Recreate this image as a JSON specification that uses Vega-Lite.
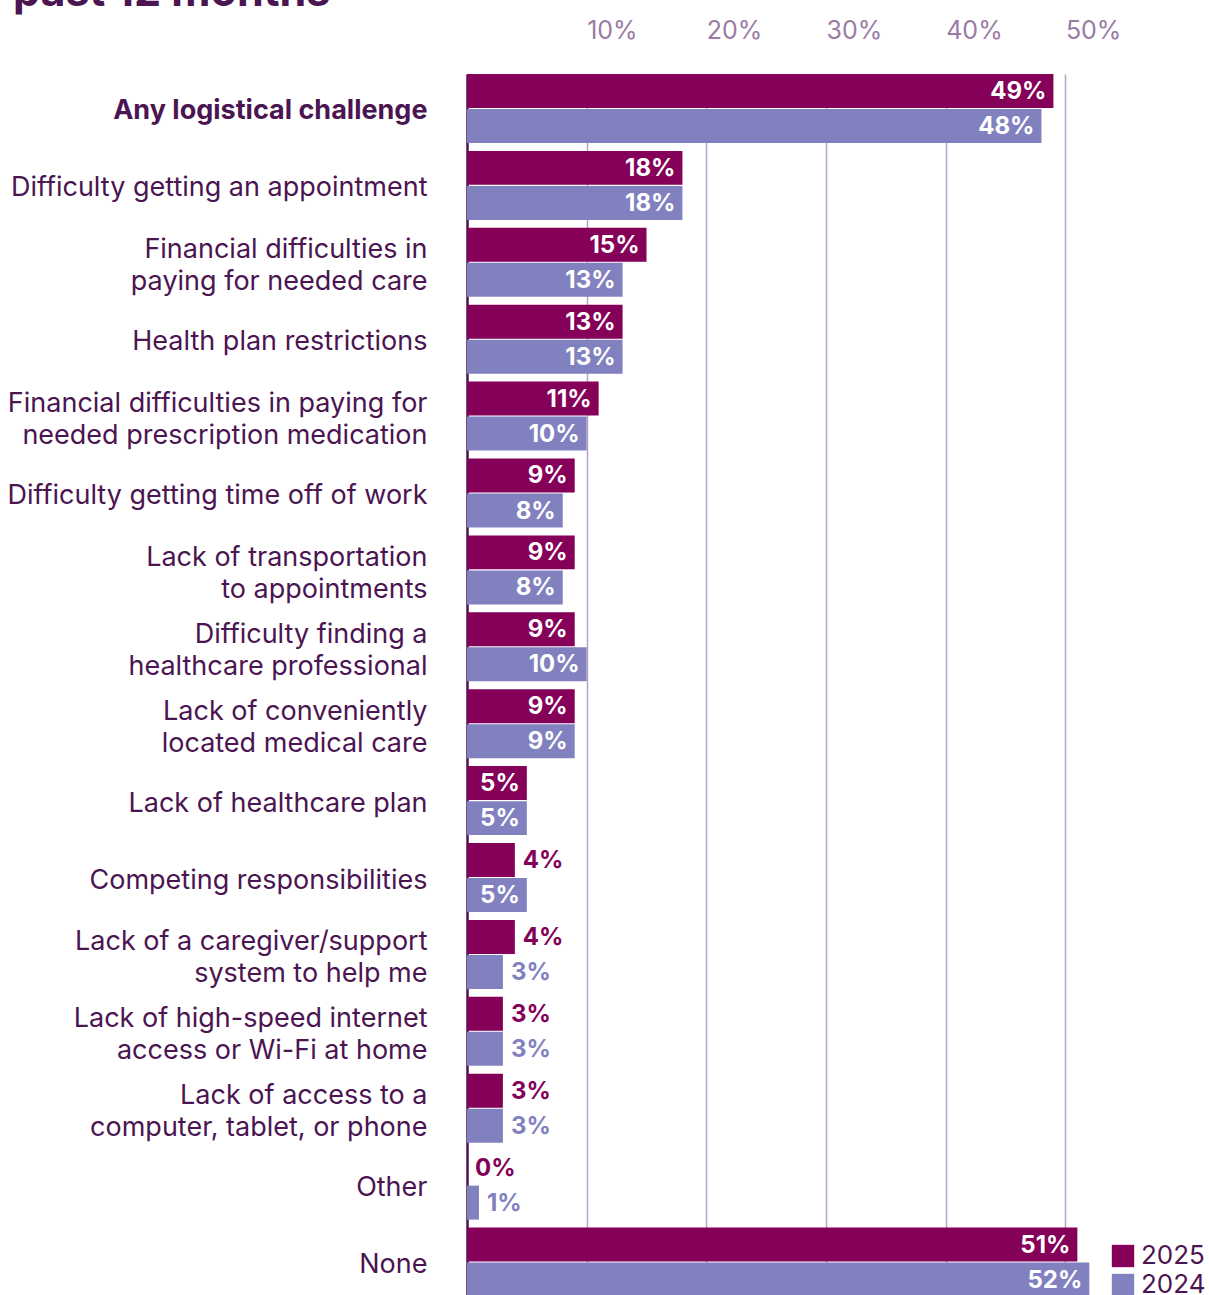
{
  "$schema": "https://vega.github.io/schema/vega-lite/v6.json",
  "autosize": {"type": "none"},
  "padding": {"left": 467, "top": 12, "right": 0, "bottom": 0},
  "width": 742,
  "height": 1283,
  "background": "white",
  "view": {"stroke": null},
  "title": {
    "text": "past 12 months",
    "anchor": "start",
    "frame": "group",
    "orient": "top",
    "offset": 5,
    "dx": -454,
    "dy": 42,
    "baseline": "alphabetic",
    "font": "Inter",
    "fontSize": 43,
    "fontWeight": "bold",
    "color": "#4b1551"
  },
  "data": {
    "values": [
      {"challenge": "Any logistical challenge", "year": "2025", "pct": 49},
      {"challenge": "Any logistical challenge", "year": "2024", "pct": 48},
      {"challenge": "Difficulty getting an appointment", "year": "2025", "pct": 18},
      {"challenge": "Difficulty getting an appointment", "year": "2024", "pct": 18},
      {"challenge": "Financial difficulties in|paying for needed care", "year": "2025", "pct": 15},
      {"challenge": "Financial difficulties in|paying for needed care", "year": "2024", "pct": 13},
      {"challenge": "Health plan restrictions", "year": "2025", "pct": 13},
      {"challenge": "Health plan restrictions", "year": "2024", "pct": 13},
      {"challenge": "Financial difficulties in paying for|needed prescription medication", "year": "2025", "pct": 11},
      {"challenge": "Financial difficulties in paying for|needed prescription medication", "year": "2024", "pct": 10},
      {"challenge": "Difficulty getting time off of work", "year": "2025", "pct": 9},
      {"challenge": "Difficulty getting time off of work", "year": "2024", "pct": 8},
      {"challenge": "Lack of transportation|to appointments", "year": "2025", "pct": 9},
      {"challenge": "Lack of transportation|to appointments", "year": "2024", "pct": 8},
      {"challenge": "Difficulty finding a|healthcare professional", "year": "2025", "pct": 9},
      {"challenge": "Difficulty finding a|healthcare professional", "year": "2024", "pct": 10},
      {"challenge": "Lack of conveniently|located medical care", "year": "2025", "pct": 9},
      {"challenge": "Lack of conveniently|located medical care", "year": "2024", "pct": 9},
      {"challenge": "Lack of healthcare plan", "year": "2025", "pct": 5},
      {"challenge": "Lack of healthcare plan", "year": "2024", "pct": 5},
      {"challenge": "Competing responsibilities", "year": "2025", "pct": 4},
      {"challenge": "Competing responsibilities", "year": "2024", "pct": 5},
      {"challenge": "Lack of a caregiver/support|system to help me", "year": "2025", "pct": 4},
      {"challenge": "Lack of a caregiver/support|system to help me", "year": "2024", "pct": 3},
      {"challenge": "Lack of high-speed internet|access or Wi-Fi at home", "year": "2025", "pct": 3},
      {"challenge": "Lack of high-speed internet|access or Wi-Fi at home", "year": "2024", "pct": 3},
      {"challenge": "Lack of access to a|computer, tablet, or phone", "year": "2025", "pct": 3},
      {"challenge": "Lack of access to a|computer, tablet, or phone", "year": "2024", "pct": 3},
      {"challenge": "Other", "year": "2025", "pct": 0},
      {"challenge": "Other", "year": "2024", "pct": 1},
      {"challenge": "None", "year": "2025", "pct": 51},
      {"challenge": "None", "year": "2024", "pct": 52}
    ]
  },
  "transform": [{"calculate": "datum.pct + '%'", "as": "pct_label"}],
  "encoding": {
    "y": {
      "field": "challenge",
      "type": "nominal",
      "sort": null,
      "scale": {"range": [62, 1284.5], "paddingInner": 0.103, "paddingOuter": 0},
      "axis": {
        "title": null,
        "orient": "left",
        "domain": true,
        "domainColor": "#4b1551",
        "domainWidth": 2.5,
        "ticks": false,
        "labelPadding": 40,
        "labelExpr": "split(datum.value, '|')",
        "labelLineHeight": 32,
        "labelOffset": {"condition": {"test": "indexof(datum.value, '|') >= 0", "value": -12}, "value": 3},
        "labelFont": "Inter",
        "labelFontSize": 27,
        "labelFontWeight": {"condition": {"test": "datum.value == 'Any logistical challenge'", "value": "bold"}, "value": "normal"},
        "labelColor": "#4b1551",
        "labelLimit": 0
      }
    },
    "yOffset": {
      "field": "year",
      "type": "nominal",
      "sort": ["2025", "2024"],
      "scale": {"paddingInner": 0.03, "paddingOuter": 0}
    },
    "x": {
      "field": "pct",
      "type": "quantitative",
      "scale": {"domain": [0, 62], "nice": false, "zero": true},
      "axis": {
        "title": null,
        "orient": "top",
        "values": [10, 20, 30, 40, 50],
        "domain": false,
        "ticks": false,
        "tickSize": 0,
        "grid": true,
        "gridColor": "#b8a3c6",
        "gridWidth": 1.5,
        "labelExpr": "datum.value + '%'",
        "labelAlign": "left",
        "labelBaseline": "alphabetic",
        "labelPadding": -26,
        "labelDx": 7,
        "labelFont": "Inter",
        "labelFontSize": 25,
        "labelColor": "#9a7ba6"
      }
    }
  },
  "layer": [
    {
      "mark": {"type": "bar", "cornerRadius": 0},
      "encoding": {
        "color": {
          "field": "year",
          "type": "nominal",
          "scale": {"domain": ["2025", "2024"], "range": ["#850058", "#8281c0"]},
          "legend": {
            "title": null,
            "orient": "none",
            "legendX": 643,
            "legendY": 1231,
            "symbolType": "square",
            "symbolSize": 500,
            "symbolStrokeWidth": 0,
            "labelFont": "Inter",
            "labelFontSize": 26,
            "labelColor": "#4b1551",
            "rowPadding": 3,
            "labelOffset": 5,
            "padding": 0
          }
        }
      }
    },
    {
      "transform": [{"filter": "datum.pct >= 5"}],
      "mark": {
        "type": "text",
        "align": "right",
        "baseline": "middle",
        "dx": -7,
        "dy": 1,
        "font": "Inter",
        "fontSize": 24,
        "fontWeight": "bold",
        "color": "white"
      },
      "encoding": {
        "text": {"field": "pct_label", "type": "nominal"},
        "detail": {"field": "year"}
      }
    },
    {
      "transform": [{"filter": "datum.pct < 5"}],
      "mark": {
        "type": "text",
        "align": "left",
        "baseline": "middle",
        "dx": 8,
        "dy": 1,
        "font": "Inter",
        "fontSize": 24,
        "fontWeight": "bold"
      },
      "encoding": {
        "text": {"field": "pct_label", "type": "nominal"},
        "color": {"field": "year", "type": "nominal", "legend": null}
      }
    }
  ]
}
